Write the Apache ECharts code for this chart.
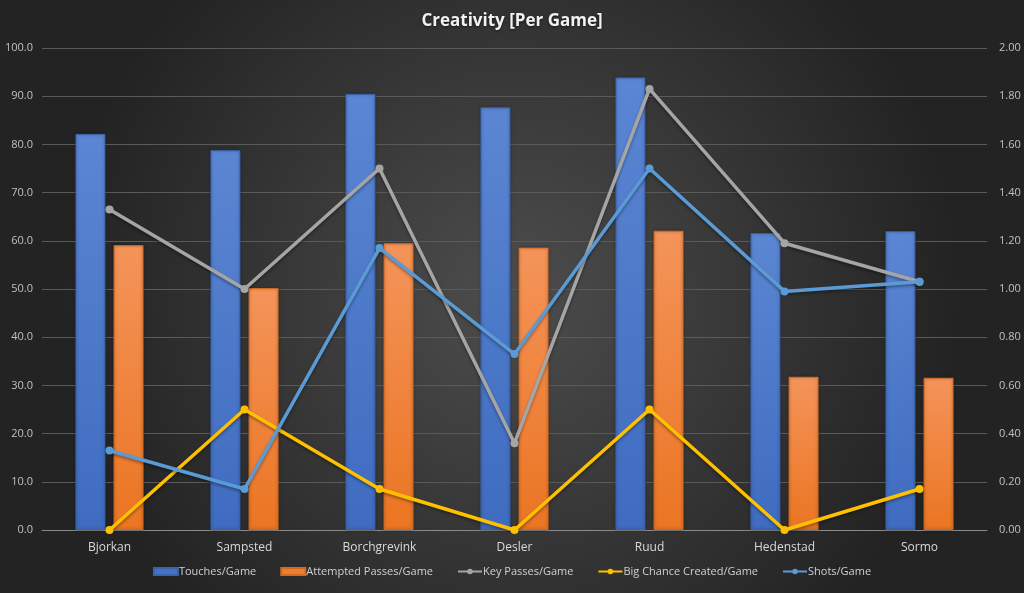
<!DOCTYPE html>
<html><head><meta charset="utf-8">
<script src="https://cdn.jsdelivr.net/npm/echarts@6/dist/echarts.min.js"></script>
<style>html,body{margin:0;padding:0;background:#333;}#c{width:1024px;height:593px;}</style>
</head><body><div id="c"></div>
<script>
const categories = ['Bjorkan','Sampsted','Borchgrevink','Desler','Ruud','Hedenstad','Sormo'];
const touches = [82.2, 78.8, 90.5, 87.7, 93.9, 61.6, 62.0];
const attemptedPasses = [59.1, 50.2, 59.5, 58.6, 62.1, 31.8, 31.6];
const keyPasses = [1.33, 1.00, 1.50, 0.36, 1.83, 1.19, 1.03];
const bigChances = [0.00, 0.50, 0.17, 0.00, 0.50, 0.00, 0.17];
const shots = [0.33, 0.17, 1.17, 0.73, 1.50, 0.99, 1.03];
const leftTicks = {min:0, max:100, interval:10};
const rightTicks = {min:0, max:2, interval:0.2};

const chart = echarts.init(document.getElementById('c'));
const font = 'Open Sans, DejaVu Sans, sans-serif';
function lineSeries(name, data, color){
  return {name, type:'line', yAxisIndex:1, data, symbol:'circle', symbolSize:8,
    lineStyle:{color, width:3.5, shadowColor:'rgba(0,0,0,0.35)', shadowBlur:3, shadowOffsetY:2},
    itemStyle:{color}, z:5};
}
chart.setOption({
  backgroundColor:{type:'radial', x:0.5, y:0.5, r:0.75, colorStops:[{offset:0,color:'#4d4d4d'},{offset:1,color:'#232323'}]},
  title:{text:'Creativity [Per Game]', left:'center', top:8, textStyle:{color:'#f2f2f2', fontSize:17, fontWeight:'bold', fontFamily:font, textShadowColor:'rgba(0,0,0,0.6)', textShadowBlur:3, textShadowOffsetY:1}},
  grid:{left:42, right:37, top:48, bottom:63},
  legend:{bottom:11, left:'center', itemGap:24, itemWidth:24, itemHeight:7, textStyle:{color:'#d0d0d0', fontSize:11, fontFamily:font, padding:[0,0,0,-4]},
    data:[{name:'Touches/Game', icon:'rect', itemStyle:{color:'#4472c4'}},{name:'Attempted Passes/Game', icon:'rect', itemStyle:{color:'#ed7d31'}},'Key Passes/Game','Big Chance Created/Game','Shots/Game']},
  xAxis:{type:'category', data:categories, axisTick:{show:false},
    axisLine:{lineStyle:{color:'#8a8a8a', width:1}},
    axisLabel:{color:'#d9d9d9', fontSize:12, fontFamily:font, margin:12}},
  yAxis:[
    {type:'value', min:leftTicks.min, max:leftTicks.max, interval:leftTicks.interval,
      axisLabel:{color:'#c0c0c0', fontSize:11, fontFamily:font, formatter:v=>v.toFixed(1), margin:9},
      splitLine:{lineStyle:{color:'#5a5a5a', width:1}}, axisLine:{show:false}, axisTick:{show:false}},
    {type:'value', min:rightTicks.min, max:rightTicks.max, interval:rightTicks.interval,
      axisLabel:{color:'#c0c0c0', fontSize:11, fontFamily:font, formatter:v=>v.toFixed(2), margin:12},
      splitLine:{show:false}, axisLine:{show:false}, axisTick:{show:false}}
  ],
  series:[
    {name:'Touches/Game', type:'bar', data:touches, barWidth:30, barGap:'27%',
      itemStyle:{color:{type:'linear',x:0,y:0,x2:0,y2:1,colorStops:[{offset:0,color:'#5b86d3'},{offset:1,color:'#3f6cc0'}]}, borderColor:'#3a62ad', borderWidth:1, shadowColor:'rgba(0,0,0,0.35)', shadowBlur:3}},
    {name:'Attempted Passes/Game', type:'bar', data:attemptedPasses, barWidth:30,
      itemStyle:{color:{type:'linear',x:0,y:0,x2:0,y2:1,colorStops:[{offset:0,color:'#f4945a'},{offset:1,color:'#eb7522'}]}, borderColor:'#d46a22', borderWidth:1, shadowColor:'rgba(0,0,0,0.35)', shadowBlur:3}},
    lineSeries('Key Passes/Game', keyPasses, '#a5a5a5'),
    lineSeries('Big Chance Created/Game', bigChances, '#ffc000'),
    lineSeries('Shots/Game', shots, '#5b9bd5')
  ]
});
</script></body></html>
